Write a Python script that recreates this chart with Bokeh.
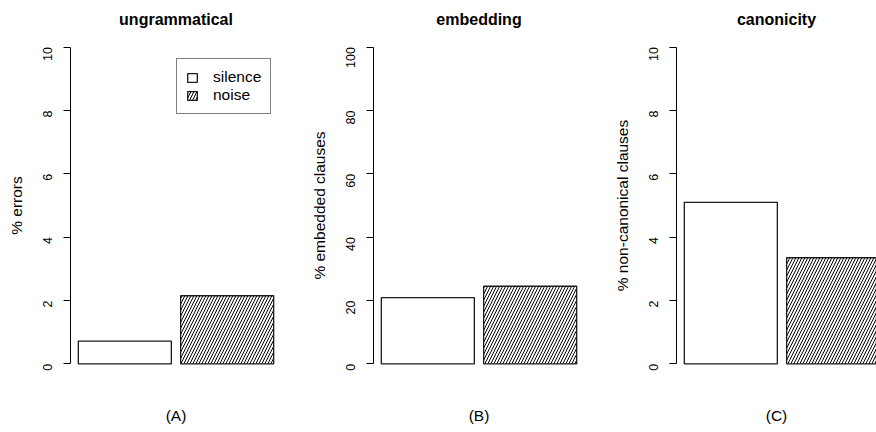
import math
from bokeh.plotting import figure
from bokeh.models import Range1d, FixedTicker, Legend, LegendItem
from bokeh.layouts import row
from bokeh.embed import file_html
from bokeh.resources import INLINE

# ---- data ----
groups = ["silence", "noise"]
titles = ["ungrammatical", "embedding", "canonicity"]
panel_labels = ["(A)", "(B)", "(C)"]
y_labels = ["% errors", "% embedded clauses", "% non-canonical clauses"]
ungrammatical = [0.72, 2.15]
embedding = [20.9, 24.5]
canonicity = [5.1, 3.35]
y_max = [10, 100, 10]
y_ticks = [[0, 2, 4, 6, 8, 10], [0, 20, 40, 60, 80, 100], [0, 2, 4, 6, 8, 10]]
series = [ungrammatical, embedding, canonicity]

FONT = "Liberation Sans"
bar_centers = [0.6, 1.7]   # R barplot, width 1, space 0.1
x_lo, x_hi = 0.016, 2.284
px_per_unit = 211 / (x_hi - x_lo)

figs = []
for i in range(3):
    ymax = y_max[i]
    pad = ymax * 0.04
    left = 70 if i == 0 else 66
    if i < 2:
        fw, right = 211, 26
        xr = Range1d(x_lo, x_hi)
    else:
        fw, right = 200, 0
        xr = Range1d(x_lo, x_lo + fw / px_per_unit)
    p = figure(frame_width=fw, frame_height=342, x_range=xr,
               y_range=Range1d(-pad, ymax + pad),
               output_backend="svg", toolbar_location=None,
               min_border_left=left, min_border_right=right,
               min_border_top=34, min_border_bottom=54,
               background_fill_color="white", border_fill_color="white")
    p.outline_line_color = None
    p.xgrid.visible = False
    p.ygrid.visible = False

    p.title.text = titles[i]
    p.title.align = "center"
    p.title.text_font = FONT
    p.title.text_font_size = "16px"
    p.title.text_font_style = "bold"
    p.title.text_color = "black"
    p.title.standoff = 13

    yax = p.yaxis[0]
    yax.ticker = FixedTicker(ticks=y_ticks[i])
    yax.bounds = (0, ymax)
    yax.major_label_orientation = math.pi / 2
    yax.major_tick_out = 7
    yax.major_tick_in = 0
    yax.minor_tick_out = 0
    yax.minor_tick_in = 0
    yax.axis_line_color = "black"
    yax.major_tick_line_color = "black"
    yax.major_label_text_font = FONT
    yax.major_label_text_font_size = "12.5px"
    yax.major_label_text_color = "black"
    yax.major_label_standoff = 16
    yax.axis_label = y_labels[i]
    yax.axis_label_text_font = FONT
    yax.axis_label_text_font_size = "15.5px"
    yax.axis_label_text_font_style = "normal"
    yax.axis_label_text_color = "black"
    yax.axis_label_standoff = 11

    xax = p.xaxis[0]
    xax.ticker = FixedTicker(ticks=[])
    xax.axis_line_color = None
    xax.major_tick_line_color = None
    xax.minor_tick_line_color = None
    xax.major_label_standoff = 0
    xax.axis_label = panel_labels[i]
    xax.axis_label_text_font = FONT
    xax.axis_label_text_font_size = "15.5px"
    xax.axis_label_text_font_style = "normal"
    xax.axis_label_text_color = "black"
    xax.axis_label_standoff = 30

    vals = series[i]
    r_sil = p.vbar(x=[bar_centers[0]], top=[vals[0]], bottom=0, width=1,
                   fill_color="white", line_color="#1a1a1a", line_width=1.3)
    r_noi = p.vbar(x=[bar_centers[1]], top=[vals[1]], bottom=0, width=1,
                   fill_color="white", line_color="#1a1a1a", line_width=1.3,
                   hatch_pattern="/", hatch_color="black", hatch_scale=6,
                   hatch_weight=1)
    if i == 0:
        leg = Legend(items=[LegendItem(label=groups[0], renderers=[r_sil]),
                            LegendItem(label=groups[1], renderers=[r_noi])],
                     location=(106, 262), margin=0, padding=9,
                     glyph_width=12, glyph_height=11, label_height=16,
                     label_standoff=15, spacing=-2,
                     label_text_font=FONT, label_text_font_size="15.5px",
                     label_text_color="black",
                     border_line_color="black", border_line_width=1,
                     background_fill_color="white")
        p.add_layout(leg, "center")
    figs.append(p)

layout = row(*figs)
open("out.html", "w").write(file_html(layout, INLINE))
